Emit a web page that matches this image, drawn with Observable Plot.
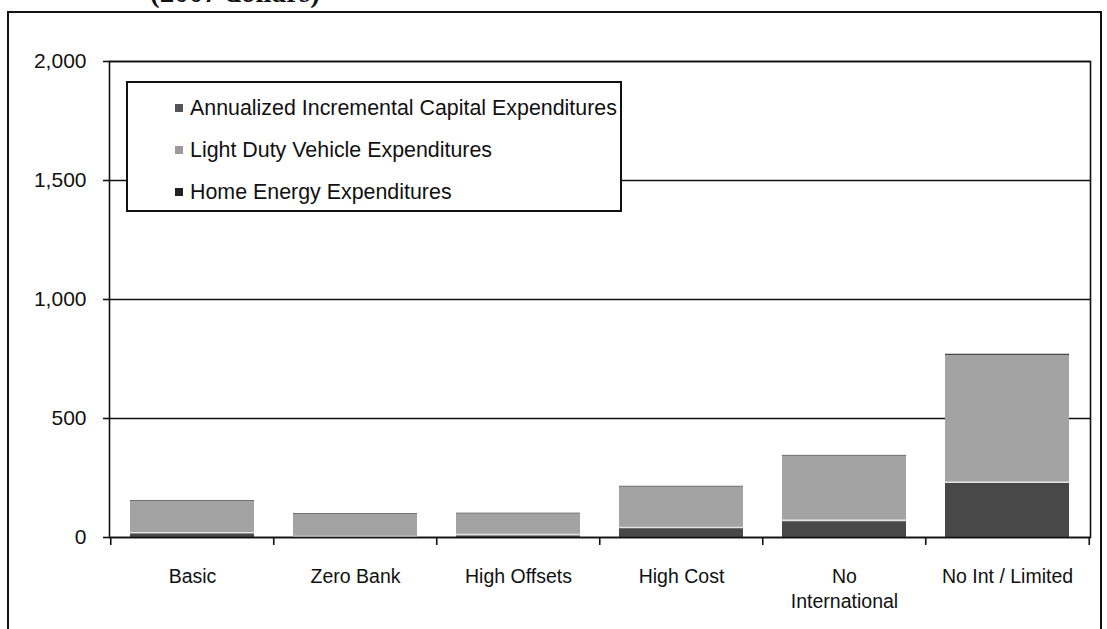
<!DOCTYPE html>
<html>
<head>
<meta charset="utf-8">
<script src="https://cdn.jsdelivr.net/npm/d3@7"></script>
<script src="https://cdn.jsdelivr.net/npm/@observablehq/plot@0.6"></script>
<style>
  html, body { margin: 0; padding: 0; background: #fff; }
  #wrap { position: relative; width: 1107px; height: 629px; overflow: hidden; font-family: "Liberation Sans", Arial, sans-serif; }
  #title { position: absolute; left: 150px; top: -22px; font-family: "Liberation Serif", "Times New Roman", serif; font-weight: bold; font-size: 29px; line-height: 29px; color: #111; white-space: nowrap; }
  #outer { position: absolute; left: 7px; top: 11px; width: 1095px; height: 640px; border: 2px solid #111; box-sizing: border-box; }
  #chart { position: absolute; left: 0; top: 0; }
  #legend { position: absolute; left: 126px; top: 81px; width: 496px; height: 131px; border: 2px solid #111; background: #fff; box-sizing: border-box; }
  .row { position: absolute; left: 47px; height: 24px; display: flex; align-items: center; font-size: 21.4px; color: #111; white-space: nowrap; }
  .sw { width: 8px; height: 8px; margin-right: 7px; }
</style>
</head>
<body>
<div id="wrap">
  <div id="title">(2007 dollars)</div>
  <div id="outer"></div>
  <div id="chart"></div>
  <div id="legend"></div>
</div>
<script>
// ---- data ----
const categories = ["Basic", "Zero Bank", "High Offsets", "High Cost", "No\nInternational", "No Int / Limited"];
const homeEnergy = [20, 4, 12, 42, 72, 232];
const lightDutyVehicle = [132, 93, 87, 170, 270, 533];
const capitalExp = [3, 3, 3, 3, 3, 5];
const seriesNames = ["Annualized Incremental Capital Expenditures", "Light Duty Vehicle Expenditures", "Home Energy Expenditures"];
const seriesColors = ["#3c3c3c", "#a3a3a3", "#484848"];
const legendSwatch = ["#555555", "#9a9a9a", "#222222"];
const yTicks = [0, 500, 1000, 1500, 2000];

// ---- build rows (bottom to top stacking order) ----
const rows = [];
categories.forEach((c, i) => rows.push({cat: c, series: seriesNames[2], value: homeEnergy[i]}));
categories.forEach((c, i) => rows.push({cat: c, series: seriesNames[1], value: lightDutyVehicle[i]}));
categories.forEach((c, i) => rows.push({cat: c, series: seriesNames[0], value: capitalExp[i]}));
const homeRows = categories.map((c, i) => ({cat: c, value: homeEnergy[i]}));

const W = 1107, H = 629;
const mL = 109, mR = 17, mT = 61, mB = 92;
const step = (W - mL - mR) / categories.length;

const chart = Plot.plot({
  width: W,
  height: H,
  marginLeft: mL,
  marginRight: mR,
  marginTop: mT,
  marginBottom: mB,
  style: {fontFamily: "'Liberation Sans', Arial, sans-serif", color: "#111", background: "transparent"},
  x: {domain: categories, paddingInner: 0.24, paddingOuter: 0.12, label: null},
  y: {domain: [0, 2000], label: null},
  color: {domain: seriesNames, range: seriesColors},
  marks: [
    Plot.ruleY(yTicks, {stroke: "#111", strokeWidth: 1.6}),
    Plot.barY(rows, {x: "cat", y: "value", fill: "series", order: null}),
    Plot.tickY(homeRows, {x: "cat", y: "value", stroke: "#e2e2e2", strokeWidth: 1.6}),
    Plot.frame({stroke: "#111", strokeWidth: 1.6}),
    Plot.ruleX(categories, {x: d => d, dx: -step / 2, y1: 0, y2: 0, insetBottom: -8, stroke: "#111", strokeWidth: 1.6}),
    Plot.ruleX(categories.slice(-1), {x: d => d, dx: step / 2, y1: 0, y2: 0, insetBottom: -8, stroke: "#111", strokeWidth: 1.6}),
    Plot.axisY({ticks: yTicks, tickFormat: d3.format(","), tickSize: 6, tickPadding: 17, fontSize: 21, label: null, stroke: "#111", strokeWidth: 1.6}),
    Plot.axisX({tickSize: 0, tickPadding: 27, fontSize: 19.5, lineHeight: 1.3, label: null})
  ]
});
document.getElementById("chart").appendChild(chart);

// ---- legend ----
const legend = document.getElementById("legend");
const rowTops = [13, 55, 97];
seriesNames.forEach((name, i) => {
  const r = document.createElement("div");
  r.className = "row";
  r.style.top = rowTops[i] + "px";
  const sw = document.createElement("span");
  sw.className = "sw";
  sw.style.background = legendSwatch[i];
  const t = document.createElement("span");
  t.textContent = name;
  r.appendChild(sw);
  r.appendChild(t);
  legend.appendChild(r);
});
</script>
</body>
</html>
